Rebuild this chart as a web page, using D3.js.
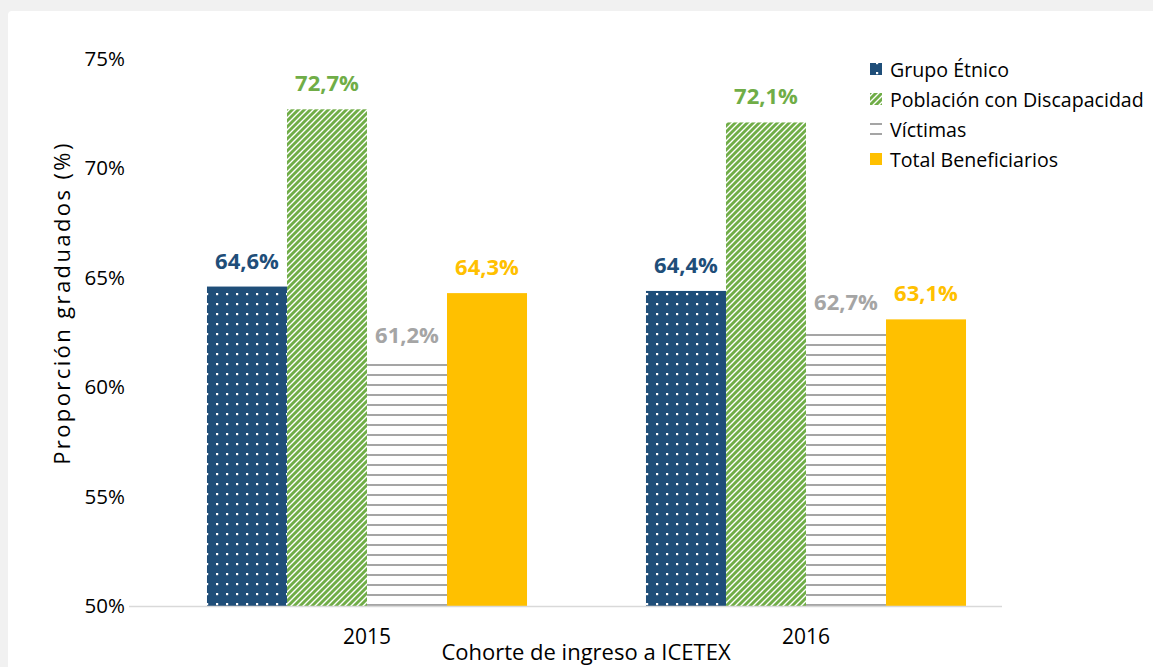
<!DOCTYPE html>
<html>
<head>
<meta charset="utf-8">
<script src="https://cdnjs.cloudflare.com/ajax/libs/d3/7.8.5/d3.min.js"></script>
<title>Proporción graduados</title>
<style>
body {margin:0; padding:0; background:#f1f1f1;}
svg {display:block;}
text {font-family:"Open Sans", "Noto Sans", sans-serif;}
</style>
</head>
<body>
<div id="myDiv"></div>
<script>
// Data
var cohorts = ["2015", "2016"];
var seriesNames = ["Grupo Étnico", "Población con Discapacidad", "Víctimas", "Total Beneficiarios"];
var grupoEtnico = [64.6, 64.4];
var discapacidad = [72.7, 72.1];
var victimas = [61.2, 62.7];
var totalBenef = [64.3, 63.1];
var yTicks = [50, 55, 60, 65, 70, 75];

var seriesValues = [grupoEtnico, discapacidad, victimas, totalBenef];
var labelColors = ["#1F4E79", "#70AD47", "#A5A5A5", "#FFC000"];
var fills = ["url(#dots)", "url(#diag)", "url(#hlines)", "#FFC000"];

var W = 1153, H = 667;

var svg = d3.select("#myDiv").append("svg")
	.attr("width", W)
	.attr("height", H);

// patterns
var defs = svg.append("defs");

var dots = defs.append("pattern").attr("id", "dots")
	.attr("patternUnits", "userSpaceOnUse")
	.attr("width", 10).attr("height", 10);
dots.append("rect").attr("width", 10).attr("height", 10).attr("fill", "#1F4E79");
dots.append("rect").attr("x", 6).attr("y", 3).attr("width", 2.2).attr("height", 2.2).attr("fill", "#ffffff");

var diag = defs.append("pattern").attr("id", "diag")
	.attr("patternUnits", "userSpaceOnUse")
	.attr("width", 6).attr("height", 6);
diag.append("rect").attr("width", 6).attr("height", 6).attr("fill", "#ffffff");
diag.append("path")
	.attr("d", "M-1,1 L1,-1 M0,6 L6,0 M5,7 L7,5")
	.attr("stroke", "#70AD47")
	.attr("stroke-width", 2.9);

var hlines = defs.append("pattern").attr("id", "hlines")
	.attr("patternUnits", "userSpaceOnUse")
	.attr("width", 10).attr("height", 10);
hlines.append("rect").attr("width", 10).attr("height", 10).attr("fill", "#ffffff");
hlines.append("rect").attr("y", 4).attr("width", 10).attr("height", 2).attr("fill", "#A5A5A5");

// white panel on grey background
svg.append("rect").attr("width", W).attr("height", H).attr("fill", "#f1f1f1");
svg.append("rect").attr("x", 8).attr("y", 11).attr("width", W).attr("height", H)
	.attr("rx", 4).attr("fill", "#ffffff");

// Scales
var yScale = d3.scaleLinear()
	.domain([50, 75])
	.range([606, 59]);

var xScale = d3.scaleBand()
	.domain(cohorts)
	.range([147.5, 1025.5])
	.paddingInner(0.271)
	.paddingOuter(0.1355);

var x1 = d3.scaleBand()
	.domain(d3.range(seriesNames.length))
	.range([0, xScale.bandwidth()]);

// Y axis (labels only)
var yaxis = d3.axisLeft(yScale)
	.tickValues(yTicks)
	.tickSize(0)
	.tickPadding(0)
	.tickFormat(function (d) { return d + "%"; });

svg.append("g")
	.attr("transform", "translate(125,0)")
	.call(yaxis)
	.call(function (g) { g.select(".domain").remove(); })
	.selectAll("text")
		.attr("font-size", 20.5)
		.attr("fill", "#000")
		.style("font-family", "'Open Sans', sans-serif");

// Bars
for (var s = 0; s < seriesValues.length; s++) {
	var grp = svg.append("g");
	grp.selectAll("rect")
		.data(seriesValues[s])
		.enter()
		.append("rect")
		.attr("x", function (d, i) { return xScale(cohorts[i]) + x1(s); })
		.attr("y", function (d) { return yScale(d); })
		.attr("width", x1.bandwidth())
		.attr("height", function (d) { return yScale(50) - yScale(d); })
		.attr("fill", fills[s]);

	grp.selectAll("text")
		.data(seriesValues[s])
		.enter()
		.append("text")
		.attr("x", function (d, i) { return xScale(cohorts[i]) + x1(s) + x1.bandwidth() / 2; })
		.attr("y", function (d) { return yScale(d) - 18; })
		.attr("text-anchor", "middle")
		.attr("font-size", 22)
		.attr("font-weight", "bold")
		.attr("fill", labelColors[s])
		.text(function (d) { return d.toFixed(1).replace(".", ",") + "%"; });
}

// X axis line + labels
svg.append("line")
	.attr("x1", 129).attr("x2", 1002)
	.attr("y1", 606.5).attr("y2", 606.5)
	.attr("stroke", "#D9D9D9")
	.attr("stroke-width", 1.5);

var xaxis = d3.axisBottom(xScale).tickSize(0).tickPadding(0);
svg.append("g")
	.attr("transform", "translate(0,629)")
	.call(xaxis)
	.call(function (g) { g.select(".domain").remove(); })
	.selectAll("text")
		.attr("font-size", 21)
		.attr("fill", "#000")
		.style("font-family", "'Open Sans', sans-serif");

// Axis titles
svg.append("text")
	.attr("x", 586).attr("y", 660)
	.attr("text-anchor", "middle")
	.attr("font-size", 22)
	.text("Cohorte de ingreso a ICETEX");

svg.append("text")
	.attr("transform", "translate(70,303) rotate(-90)")
	.attr("text-anchor", "middle")
	.attr("font-size", 22)
	.attr("letter-spacing", 2.4)
	.text("Proporción graduados (%)");

// Legend
var legend = svg.append("g").attr("transform", "translate(870,69)");
seriesNames.forEach(function (name, i) {
	var row = legend.append("g").attr("transform", "translate(0," + (i * 30) + ")");
	row.append("rect")
		.attr("x", 0).attr("y", -6)
		.attr("width", 12).attr("height", 12)
		.attr("fill", fills[i]);
	row.append("text")
		.attr("x", 20).attr("y", 7.5)
		.attr("font-size", 19.6)
		.attr("fill", "#000")
		.text(name);
});
</script>
</body>
</html>
